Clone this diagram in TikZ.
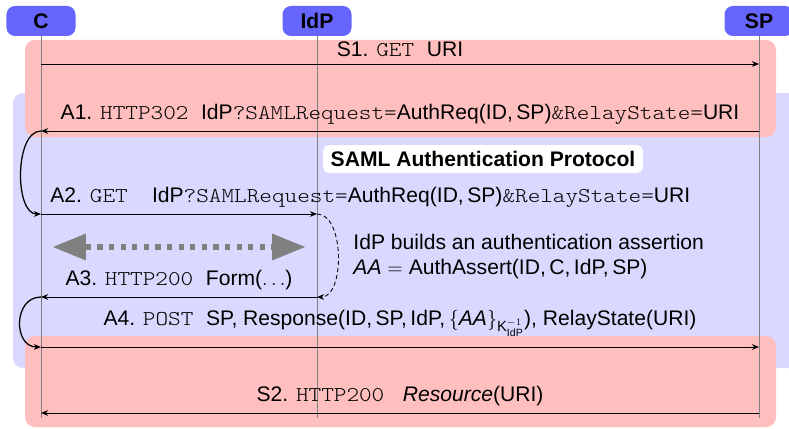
\documentclass[tikz,border=0pt]{standalone}
\usepackage{amsmath}
\usepackage{fontspec}
\setmainfont{Liberation Sans}
\setsansfont{Liberation Sans}
\setmonofont[FakeStretch=1.14]{lmmonolt10-regular.otf}
\usetikzlibrary{arrows.meta,positioning}

\definecolor{partyblue}{RGB}{102,102,255}
\definecolor{phasered}{RGB}{255,191,191}
\definecolor{phaseblue}{RGB}{217,217,255}
\newcommand{\msgfont}{\fontsize{15}{18}\selectfont}

\tikzset{
  party/.style={fill=partyblue, rounded corners=6pt, minimum width=1.725cm, minimum height=0.75cm, font=\msgfont\bfseries},
  lifeline/.style={gray, line width=0.5pt},
  phase/.style={rounded corners=7pt},
  msg/.style={-{Stealth[length=5pt,width=4pt,inset=1.5pt]}, line width=0.6pt},
  hop/.style={-{Stealth[length=5pt,width=4pt,inset=1.5pt]}, line width=0.9pt},
  msglabel/.style={anchor=base, inner sep=0pt, yshift=#1},
  msglabel/.default=0.29cm,
}

\begin{document}
\begin{tikzpicture}[font=\msgfont]
    \useasboundingbox (0,0) rectangle (19.725,10.7);
    % phases
    \fill[phaseblue, phase] (0.325,1.5) rectangle (20.2,8.375);
    \fill[phasered, phase] (0.625,7.275) rectangle (19.4,9.7);
    \fill[phasered, phase] (0.625,0.025) rectangle (19.4,2.3);
    % parties and lifelines
    \node[party] (c) at (1.025,10.175) {C};
    \node[party] (idp) at (7.925,10.175) {IdP};
    \node[party] (sp) at (18.975,10.175) {SP};
    \foreach \row/\y in {s1/9.1, a1/7.425, a2/5.35, a3/3.275, a4/2.025, s2/0.375, end/0.25}
        \foreach \p in {c,idp,sp}
            \coordinate (\p-\row) at (\p |- 0,\y);
    \foreach \p in {c,idp,sp}
        \draw[lifeline] (\p) -- (\p-end);
    \node[fill=white, rounded corners=4pt, font=\msgfont\bfseries, inner xsep=0.19cm, minimum height=0.7cm] (saml) at (12.075,6.725) {SAML Authentication Protocol};
    % messages
    \draw[msg] (c-s1) -- node[msglabel=0.19cm] {S1. \texttt{GET }URI} (sp-s1);
    \draw[msg] (sp-a1) -- node[msglabel] {A1. \texttt{HTTP302 }IdP\texttt{?SAMLRequest=}AuthReq(ID,\,SP)\texttt{\&RelayState=}URI} (c-a1);
    \draw[hop] (c-a1) to[out=180, in=180, looseness=0.82] (c-a2);
    \draw[msg] (c-a2) node[anchor=base west, inner sep=0pt, xshift=0.225cm, yshift=0.28cm] {A2. \texttt{GET }\ \ IdP\texttt{?SAMLRequest=}AuthReq(ID,\,SP)\texttt{\&RelayState=}URI} -- (idp-a2);
    \draw[msg, dash pattern=on 3pt off 2pt] (idp-a2) to[out=0, in=0, looseness=0.86] (idp-a3);
    \node[anchor=base west, inner sep=0pt] (build) at (8.83,4.4675) {IdP builds an authentication assertion};
    \node[anchor=base west, inner sep=0pt] (aa) at ([yshift=-0.6175cm]build.base west) {\textit{AA} $=$ AuthAssert(ID,\,C,\,IdP,\,SP)};
    \coordinate (formL) at (1.325,4.525);
    \coordinate (formR) at (7.625,4.525);
    \draw[gray, line width=0.13cm, dash pattern=on 0.13cm off 0.16cm, {Triangle[length=0.82cm,width=0.67cm,line width=0pt]}-{Triangle[length=0.82cm,width=0.67cm,line width=0pt]}] (formL) -- (formR);
    \draw[msg] (idp-a3) -- node[msglabel=0.28cm] {A3. \texttt{HTTP200 }Form($\ldots$)} (c-a3);
    \draw[hop] (c-a3) to[out=180, in=180, looseness=1.43] (c-a4);
    \draw[msg] (c-a4) -- node[msglabel=0.53cm] {A4. \texttt{POST }SP, Response(ID,\,SP,\,IdP,\,$\{\text{\itshape AA}\}_{\text{K}^{-1}_{\text{IdP}}}$), RelayState(URI)} (sp-a4);
    \draw[msg] (sp-s2) -- node[msglabel=0.3cm] {S2. \texttt{HTTP200 }\ \textit{Resource}(URI)} (c-s2);
\end{tikzpicture}
\end{document}
